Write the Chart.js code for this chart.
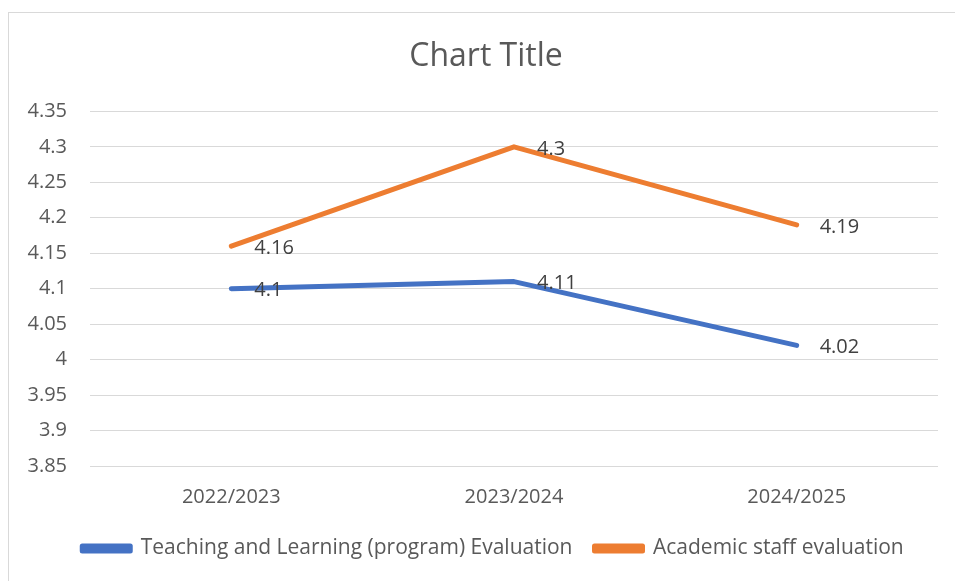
<!DOCTYPE html>
<html>
<head>
<meta charset="utf-8">
<script src="https://cdn.jsdelivr.net/npm/chart.js@4"></script>
<style>
  html, body { margin: 0; padding: 0; background: #fff; overflow: hidden; }
  #wrap { position: relative; width: 955px; height: 581px; }
</style>
</head>
<body>
<div id="wrap"><canvas id="chart" width="955" height="581"></canvas></div>
<script>
// --- données ---
const years = ['2022/2023', '2023/2024', '2024/2025'];
const teachingEval = [4.1, 4.11, 4.02];
const staffEval = [4.16, 4.3, 4.19];
const seriesNames = ['Teaching and Learning (program) Evaluation', 'Academic staff evaluation'];

const FONT = "'Open Sans', 'Noto Sans', sans-serif";

// cadre gris du graphique (coupé à droite et en bas comme sur la capture)
const frame = {
    id: 'frame',
    beforeDraw(chart) {
        const c = chart.ctx;
        c.save();
        c.strokeStyle = '#D9D9D9';
        c.lineWidth = 1;
        c.strokeRect(8.5, 12.5, 2000, 2000);
        c.restore();
    }
};

// Excel centre titre et légende un peu plus à droite : on décale les boîtes
const recentre = {
    id: 'recentre',
    afterLayout(chart) {
        if (chart.legend) { chart.legend.left += 24; chart.legend.right += 24; }
        if (chart.titleBlock) { chart.titleBlock.left += 17; chart.titleBlock.right += 17; }
    }
};

// étiquettes de données à droite des points
const dataLabels = {
    id: 'dataLabels',
    afterDatasetsDraw(chart) {
        const c = chart.ctx;
        c.save();
        c.font = '20px ' + FONT;
        c.fillStyle = '#404040';
        c.textAlign = 'left';
        c.textBaseline = 'middle';
        chart.data.datasets.forEach((ds, i) => {
            chart.getDatasetMeta(i).data.forEach((pt, j) => {
                c.fillText(String(ds.data[j]), pt.x + 23, pt.y + 2);
            });
        });
        c.restore();
    }
};

new Chart(document.getElementById('chart'), {
    type: 'line',
    data: {
        labels: years,
        datasets: [{
            label: seriesNames[0],
            data: teachingEval,
            borderColor: '#4472C4',
            backgroundColor: '#4472C4',
            borderWidth: 5,
            borderCapStyle: 'round',
            borderJoinStyle: 'round',
            pointRadius: 0,
            tension: 0
        }, {
            label: seriesNames[1],
            data: staffEval,
            borderColor: '#ED7D31',
            backgroundColor: '#ED7D31',
            borderWidth: 5,
            borderCapStyle: 'round',
            borderJoinStyle: 'round',
            pointRadius: 0,
            tension: 0
        }]
    },
    options: {
        responsive: false,
        animation: false,
        layout: { padding: { left: 0, right: 17, top: 0, bottom: 12 } },
        plugins: {
            title: {
                display: true,
                text: 'Chart Title',
                color: '#595959',
                font: { family: FONT, size: 32, weight: 'normal' },
                padding: { top: 38, bottom: 35 }
            },
            legend: {
                position: 'bottom',
                labels: {
                    color: '#595959',
                    font: { family: FONT, size: 21 },
                    boxWidth: 48,
                    boxHeight: 5,
                    padding: 22
                }
            },
            tooltip: { enabled: false }
        },
        scales: {
            x: {
                offset: true,
                grid: { display: false, drawTicks: false },
                border: { display: false },
                ticks: {
                    color: '#595959',
                    font: { family: FONT, size: 20 },
                    padding: 19
                },
                afterFit(scale) { scale.height = 50; }
            },
            y: {
                min: 3.85,
                max: 4.35,
                grid: { color: '#D9D9D9', lineWidth: 1, drawTicks: false },
                border: { display: false },
                ticks: {
                    stepSize: 0.05,
                    color: '#595959',
                    font: { family: FONT, size: 20 },
                    padding: 23,
                    callback: v => String(Number(v.toFixed(2)))
                },
                afterFit(scale) { scale.width = 90; }
            }
        }
    },
    plugins: [frame, recentre, dataLabels]
});
</script>
</body>
</html>
